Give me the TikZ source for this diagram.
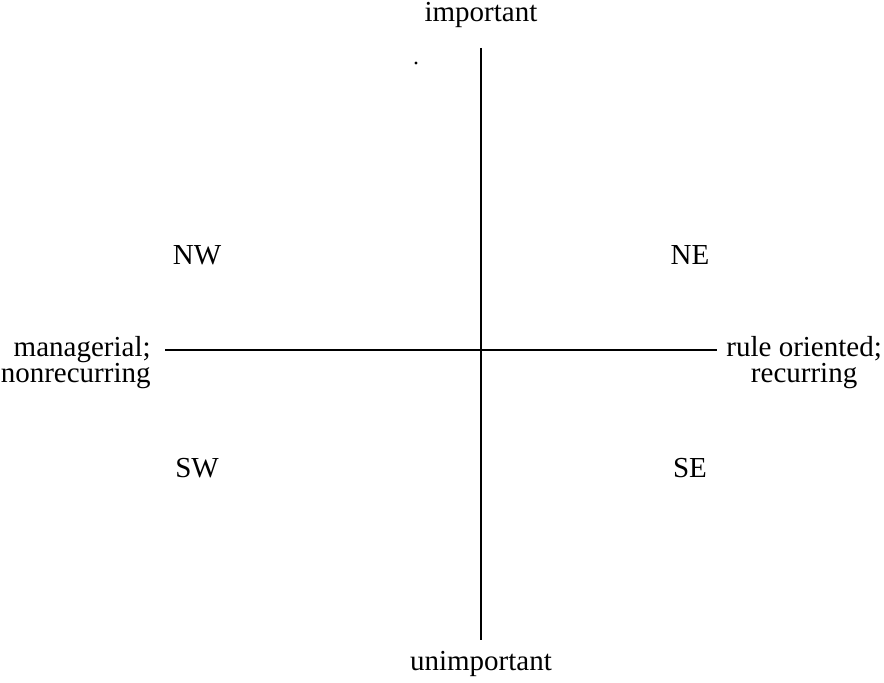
\documentclass[tikz,border=0pt]{standalone}
\usepackage{fontspec}
\setmainfont{Liberation Serif}
\begin{document}
\begin{tikzpicture}[x=0.5pt,y=-0.5pt]
\tikzset{
  lbl/.style={inner sep=0pt, font=\fontsize{14.5}{13}\selectfont},
  axis/.style={line width=1pt, black}
}
\useasboundingbox (0,0) rectangle (884,683);
% axis labels
\node[lbl, anchor=base] (imp) at (481,22) {important};
\node[lbl, anchor=base] (unimp) at (481,671) {unimportant};
\node[lbl, anchor=base east, align=right] (left) at (151,383) {managerial;\\nonrecurring};
\node[lbl, anchor=base west, align=center] (right) at (726,383) {rule oriented;\\recurring};
% quadrant labels
\node[lbl] (nw) at (197,255) {NW};
\node[lbl] (ne) at (690,255) {NE};
\node[lbl] (sw) at (197,468) {SW};
\node[lbl] (se) at (690,468) {SE};
% axis end points
\coordinate (vtop) at (481,48);
\coordinate (vbot) at (481,640);
\coordinate (hleft) at (165,350);
\coordinate (hright) at (717,350);
\draw[axis] (vtop) -- (vbot);
\draw[axis] (hleft) -- (hright);
% small speck
\coordinate (speck) at (416,63);
\fill (speck) circle (1.6);
\end{tikzpicture}
\end{document}
